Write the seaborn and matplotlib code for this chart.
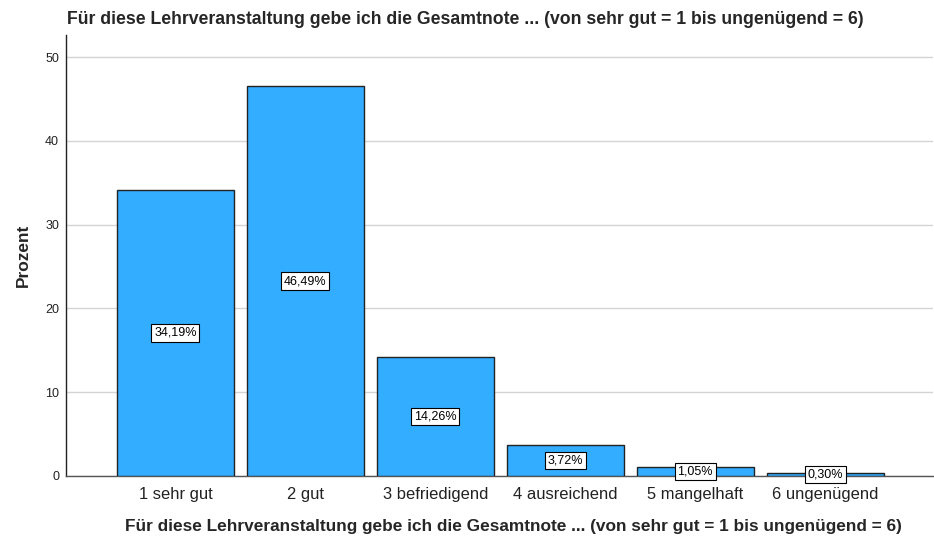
import matplotlib
matplotlib.use("Agg")
import matplotlib.pyplot as plt
import seaborn as sns
import pandas as pd

categories = ["1 sehr gut", "2 gut", "3 befriedigend", "4 ausreichend", "5 mangelhaft", "6 ungenügend"]
percent = [34.19, 46.49, 14.26, 3.72, 1.05, 0.30]
value_labels = ["34,19%", "46,49%", "14,26%", "3,72%", "1,05%", "0,30%"]
yticks = [0, 10, 20, 30, 40, 50]
title = "Für diese Lehrveranstaltung gebe ich die Gesamtnote ... (von sehr gut = 1 bis ungenügend = 6)"

sns.set_theme(style="white")
plt.rcParams['font.family'] = ['Liberation Sans', 'DejaVu Sans']

df = pd.DataFrame({"cat": categories, "pct": percent})

fig = plt.figure(figsize=(9.34, 5.42), dpi=100)
ax = fig.add_axes([66/934, 1 - 476/542, (933 - 66)/934, (476 - 35)/542])

sns.barplot(data=df, x="cat", y="pct", ax=ax, color="#33adff", saturation=1,
            width=0.9, edgecolor="#222222", linewidth=1.0, zorder=3)

ax.set_xlim(-0.842, 5.83)
ax.set_ylim(0, 52.63)
ax.set_yticks(yticks)
ax.set_yticklabels([str(t) for t in yticks], fontsize=9, color="#222222")
ax.tick_params(axis="x", labelsize=11.9, colors="#222222", length=0, pad=8)
ax.tick_params(axis="y", length=0, pad=5)
ax.yaxis.grid(True, color="#d4d4d4", linewidth=1.0, zorder=0)
ax.set_axisbelow(True)

for s in ["top", "right"]:
    ax.spines[s].set_visible(False)
ax.spines["left"].set_color("#222222")
ax.spines["left"].set_linewidth(1.0)
ax.spines["bottom"].set_color("#555555")
ax.spines["bottom"].set_linewidth(1.0)

for i, (v, lab) in enumerate(zip(percent, value_labels)):
    ax.text(i, v / 2, lab, ha="center", va="center", fontsize=9, color="black", zorder=5,
            bbox=dict(boxstyle="square,pad=0.22", facecolor="white", edgecolor="black", linewidth=0.8))

ax.set_ylabel("Prozent", fontsize=12.4, fontweight="bold", labelpad=10)
ax.set_xlabel("")
fig.text(513/934, 1 - 526/542, title, fontsize=12.4, fontweight="bold", ha="center", va="center")
fig.text(67/934, 1 - 19/542, title, fontsize=12.7, fontweight="bold", ha="left", va="center")

fig.savefig("out.png", dpi=100)
